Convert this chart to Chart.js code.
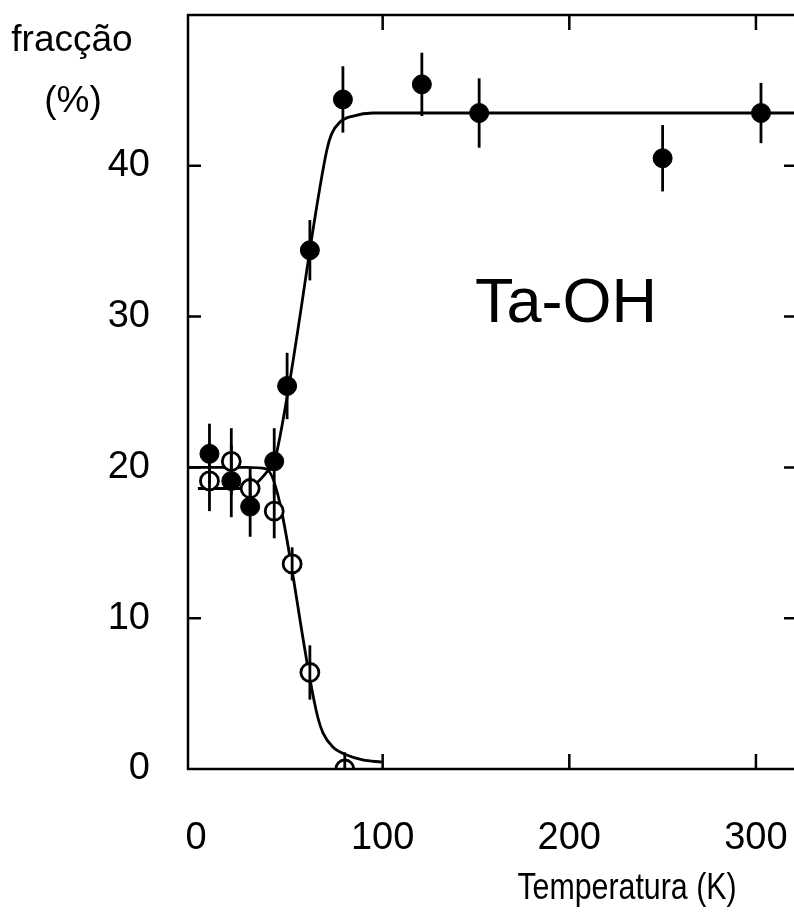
<!DOCTYPE html>
<html>
<head>
<meta charset="utf-8">
<script src="https://cdn.jsdelivr.net/npm/chart.js@4/dist/chart.umd.min.js"></script>
<style>
  html, body { margin: 0; padding: 0; background: #fff; overflow: hidden; }
  #wrap { width: 810px; height: 921px; }
</style>
</head>
<body>
<div id="wrap"><canvas id="chart" width="810" height="921"></canvas></div>
<script>
// measured points (filled = closed circles, open = open circles)
const closedT = [7.2, 18.9, 29, 41.9, 48.8, 61, 78.7, 121, 151.7, 250, 302.7];
const closedFrac = [20.9, 19.1, 17.4, 20.4, 25.4, 34.4, 44.4, 45.4, 43.5, 40.5, 43.5];
const closedErr = [2.0, 2.4, 2.0, 2.2, 2.2, 2.0, 2.2, 2.1, 2.3, 2.2, 2.0];
const openT = [7.2, 18.9, 29, 41.9, 51.5, 61, 79.7];
const openFrac = [19.1, 20.4, 18.6, 17.1, 13.6, 6.4, 0];
const openErr = [2.0, 2.2, 1.4, 1.8, 1.1, 1.8, 1.1];

// fitted curves
const closedFitT = [1, 27, 31, 38, 42, 48.7, 70.0, 72.6, 77.1, 84.2, 94.8, 322];
const closedFitFrac = [18.6, 18.6, 18.8, 19.7, 20.4, 24.6, 41.0, 42.1, 42.9, 43.3, 43.5, 43.5];
const openFitT = [-5, 27, 37.6, 65.3, 68, 73.3, 80.8, 89.3, 99.5];
const openFitFrac = [20, 20, 19.9, 3.4, 2.4, 1.46, 0.93, 0.6, 0.46];

const xTicks = [0, 100, 200, 300];
const yTicks = [0, 10, 20, 30, 40];
const xInner = [100, 200, 300];
const yInner = [10, 20, 30, 40];

const FONT = "'Liberation Sans', Arial, Helvetica, sans-serif";

function pts(xs, ys) {
  return xs.map((x, i) => ({ x: x, y: ys[i] }));
}

function noPad(s) {
  s.paddingTop = 0;
  s.paddingBottom = 0;
  s.paddingLeft = 0;
  s.paddingRight = 0;
}

const errorBars = {
  id: 'errorBars',
  afterDatasetsDraw(chart) {
    const ctx = chart.ctx;
    const xs = chart.scales.x, ys = chart.scales.y;
    const a = chart.chartArea;
    ctx.save();
    ctx.beginPath();
    ctx.rect(a.left, a.top, a.right - a.left, a.bottom - a.top);
    ctx.clip();
    ctx.strokeStyle = '#000';
    ctx.lineWidth = 2.8;
    const draw = (tx, fy, er) => {
      tx.forEach((t, i) => {
        const px = xs.getPixelForValue(t);
        ctx.beginPath();
        ctx.moveTo(px, ys.getPixelForValue(fy[i] - er[i]));
        ctx.lineTo(px, ys.getPixelForValue(fy[i] + er[i]));
        ctx.stroke();
      });
    };
    draw(closedT, closedFrac, closedErr);
    draw(openT, openFrac, openErr);
    ctx.restore();
  }
};

const frame = {
  id: 'frame',
  afterDraw(chart) {
    const ctx = chart.ctx;
    const a = chart.chartArea;
    const xs = chart.scales.x, ys = chart.scales.y;
    ctx.save();
    ctx.strokeStyle = '#000';
    ctx.lineWidth = 2.5;
    ctx.strokeRect(a.left, a.top, a.right - a.left, a.bottom - a.top);
    ctx.beginPath();
    xInner.forEach(v => {
      const px = xs.getPixelForValue(v);
      ctx.moveTo(px, a.bottom); ctx.lineTo(px, a.bottom - 15);
      ctx.moveTo(px, a.top); ctx.lineTo(px, a.top + 15);
    });
    yInner.forEach(v => {
      const py = ys.getPixelForValue(v);
      ctx.moveTo(a.left, py); ctx.lineTo(a.left + 13, py);
      ctx.moveTo(a.right, py); ctx.lineTo(a.right - 13, py);
    });
    ctx.stroke();

    ctx.fillStyle = '#000';
    ctx.textAlign = 'center';
    ctx.textBaseline = 'alphabetic';
    ctx.font = '37px ' + FONT;
    ctx.fillText('fracção', 72, 51);
    ctx.fillText('(%)', 73, 112);
    // axis title is set in a narrow face: squeeze it horizontally
    ctx.save();
    ctx.translate(627, 899);
    ctx.scale(0.82, 1);
    ctx.font = '37px ' + FONT;
    ctx.fillText('Temperatura (K)', 0, 0);
    ctx.restore();
    ctx.font = '63px ' + FONT;
    ctx.fillText('Ta-OH', 566, 322);
    ctx.restore();
  }
};

new Chart(document.getElementById('chart').getContext('2d'), {
  type: 'scatter',
  data: {
    datasets: [
      {
        type: 'scatter',
        data: pts(closedT, closedFrac),
        pointRadius: 9.5,
        pointBackgroundColor: '#000',
        pointBorderColor: '#000',
        pointBorderWidth: 1,
        clip: 0,
        order: 1
      },
      {
        type: 'scatter',
        data: pts(openT, openFrac),
        pointRadius: 9,
        pointBackgroundColor: '#fff',
        pointBorderColor: '#000',
        pointBorderWidth: 2.8,
        clip: 0,
        order: 2
      },
      {
        type: 'line',
        data: pts(closedFitT, closedFitFrac),
        borderColor: '#000',
        borderWidth: 2.8,
        pointRadius: 0,
        cubicInterpolationMode: 'monotone',
        fill: false,
        clip: 0,
        order: 3
      },
      {
        type: 'line',
        data: pts(openFitT, openFitFrac),
        borderColor: '#000',
        borderWidth: 2.8,
        pointRadius: 0,
        cubicInterpolationMode: 'monotone',
        fill: false,
        clip: 0,
        order: 4
      }
    ]
  },
  options: {
    responsive: false,
    animation: false,
    layout: { padding: { top: 15, right: 13, left: 0, bottom: 0 } },
    plugins: {
      legend: { display: false },
      tooltip: { enabled: false }
    },
    scales: {
      x: {
        type: 'linear',
        min: -4.3,
        max: 322,
        grid: { display: false, drawTicks: false },
        border: { display: false },
        afterBuildTicks: s => { s.ticks = xTicks.map(v => ({ value: v })); },
        afterFit: s => { s.height = 152; noPad(s); },
        ticks: {
          color: '#000',
          font: { family: FONT, size: 38 },
          padding: 47,
          autoSkip: false,
          maxRotation: 0
        }
      },
      y: {
        type: 'linear',
        min: 0,
        max: 50,
        grid: { display: false, drawTicks: false },
        border: { display: false },
        afterBuildTicks: s => { s.ticks = yTicks.map(v => ({ value: v })); },
        afterFit: s => { s.width = 188; noPad(s); },
        ticks: {
          color: '#000',
          font: { family: FONT, size: 38 },
          padding: 38
        }
      }
    }
  },
  plugins: [errorBars, frame]
});
</script>
</body>
</html>
